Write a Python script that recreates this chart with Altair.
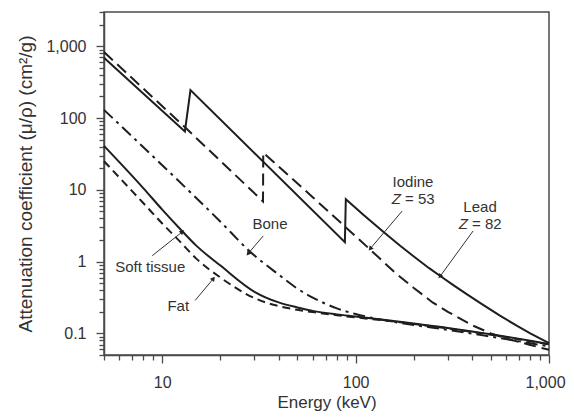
import altair as alt
import pandas as pd

# ---- data (energy keV, mass attenuation cm^2/g) ----
lead_E = [5, 13.1, 14.0, 88, 89, 110, 139, 170, 200, 240, 281, 320, 377, 450, 555, 684, 800, 1000]
lead_mu = [690, 65, 245, 1.87, 7.4, 4.47, 2.6, 1.66, 1.18, 0.81, 0.6, 0.47, 0.35, 0.255, 0.178, 0.127, 0.1, 0.073]

iodine_E = [5, 13, 33.2, 33.3, 60, 118, 160, 200, 250, 300, 400, 500, 600, 800, 1000]
iodine_mu = [830, 76, 6.9, 33, 7.9, 1.5, 0.7, 0.43, 0.27, 0.2, 0.13, 0.1, 0.085, 0.069, 0.059]

bone_E = [5, 10, 15, 20, 28.5, 40, 50, 60, 80, 100, 150, 200, 300, 500, 1000]
bone_mu = [130, 22, 7.7, 3.6, 1.37, 0.66, 0.42, 0.316, 0.223, 0.186, 0.148, 0.131, 0.112, 0.090, 0.066]

soft_E = [5, 8, 10, 12.7, 15, 20, 30, 40, 50, 60, 80, 100, 150, 200, 300, 400, 500, 600, 800, 1000]
soft_mu = [41, 10.5, 5.3, 2.65, 1.67, 0.88, 0.38, 0.27, 0.23, 0.206, 0.184, 0.172, 0.151, 0.137, 0.119, 0.106, 0.097, 0.090, 0.079, 0.071]

fat_E = [5, 8, 10, 12.4, 15, 20, 30, 40, 50, 60, 80, 100, 150, 200, 300, 500, 1000]
fat_mu = [25, 6.5, 3.4, 1.88, 1.1, 0.6, 0.31, 0.24, 0.213, 0.198, 0.179, 0.167, 0.149, 0.135, 0.117, 0.096, 0.070]

x_ticks = [5, 6, 7, 8, 9, 10, 20, 30, 40, 50, 60, 70, 80, 90,
           100, 200, 300, 400, 500, 600, 700, 800, 900, 1000]
y_ticks = [0.05, 0.06, 0.07, 0.08, 0.09, 0.1, 0.2, 0.3, 0.4, 0.5, 0.6, 0.7, 0.8, 0.9,
           1, 2, 3, 4, 5, 6, 7, 8, 9, 10, 20, 30, 40, 50, 60, 70, 80, 90,
           100, 200, 300, 400, 500, 600, 700, 800, 900, 1000, 2000, 3000]

# annotation texts and their anchor points (data units)
label_text = ["Iodine", "Lead", "Bone", "Soft tissue", "Fat"]
label_E = [198, 440, 36.1, 8.67, 12.1]
label_mu = [12.7, 5.74, 3.34, 0.85, 0.238]

z_num = ["= 53", "= 82"]
z_E = [198, 440]
z_mu = [7.4, 3.34]

arrow_E1 = [174, 405, 33.3, 8.88, 14.8]
arrow_mu1 = [5.06, 2.67, 2.28, 1.21, 0.288]
arrow_E2 = [119, 273, 27.8, 12.7, 18.4]
arrow_mu2 = [1.51, 0.62, 1.29, 2.6, 0.58]
arrow_angle = [220, 216, 220, 51, 39]

INK = "#1e1e1e"
AX = "#4a4a4a"
FONT = "Liberation Sans"

xscale = alt.Scale(type="log", domain=[5, 1000], nice=False)
yscale = alt.Scale(type="log", domain=[0.05, 3000], nice=False)

x_axis = alt.Axis(
    values=x_ticks, title="Energy (keV)", grid=False,
    labelExpr="indexof([10,100,1000], datum.value) >= 0 ? format(datum.value, ',') : ''",
    tickSize={"condition": {"test": "indexof([10,100,1000], datum.value) >= 0", "value": 8}, "value": 5},
    labelOffset={"condition": {"test": "datum.value == 1000", "value": -4}, "value": 0},
    labelOverlap=False, labelFlush=False, labelPadding=11,
    labelFont=FONT, labelFontSize=16, labelColor="#333",
    titleFont=FONT, titleFontSize=17, titleFontWeight="normal", titleColor="#333",
    titleY=52, titleBaseline="alphabetic",
    domainColor=AX, domainWidth=1.5, tickColor=AX, tickWidth=1.3,
)
y_axis = alt.Axis(
    values=y_ticks, title="Attenuation coefficient (μ/ρ) (cm²/g)", grid=False,
    labelExpr="indexof([0.1,1,10,100,1000], datum.value) >= 0 ? format(datum.value, ',') : ''",
    tickSize={"condition": {"test": "indexof([0.1,1,10,100,1000], datum.value) >= 0", "value": 8}, "value": 5},
    labelOverlap=False, labelFlush=False, labelPadding=10,
    labelFont=FONT, labelFontSize=16, labelColor="#333",
    titleFont=FONT, titleFontSize=19, titleFontWeight="normal", titleColor="#333",
    titleX=-79, titleY=171.5, titleBaseline="middle", titleAlign="center",
    domainColor=AX, domainWidth=1.5, tickColor=AX, tickWidth=1.3,
)


def X(field):
    return alt.X(field, type="quantitative", scale=xscale, axis=x_axis)


def Y(field):
    return alt.Y(field, type="quantitative", scale=yscale, axis=y_axis)


def series_df(E, mu):
    return pd.DataFrame({"E": E, "mu": mu, "idx": list(range(len(E)))})


def line(E, mu, dash, interp, width=2.0):
    kw = {}
    if dash:
        kw["strokeDash"] = dash
    return alt.Chart(series_df(E, mu)).mark_line(
        color=INK, strokeWidth=width, interpolate=interp, **kw
    ).encode(x=X("E"), y=Y("mu"), order=alt.Order("idx:Q"))


layers = [
    line(lead_E, lead_mu, None, "linear"),
    line(iodine_E, iodine_mu, [12, 6], "linear"),
    line(bone_E, bone_mu, [12, 5, 3, 5], "monotone"),
    line(soft_E, soft_mu, None, "monotone"),
    line(fat_E, fat_mu, [8, 5], "monotone"),
]

arrows = pd.DataFrame({"E1": arrow_E1, "mu1": arrow_mu1, "E2": arrow_E2,
                       "mu2": arrow_mu2, "ang": arrow_angle})
layers.append(alt.Chart(arrows).mark_rule(color="#333", strokeWidth=1).encode(
    x=X("E1"), y=Y("mu1"), x2="E2:Q", y2="mu2:Q"))
layers.append(alt.Chart(arrows).mark_point(shape="triangle-up", filled=True, color="#222",
                                           size=28, opacity=1).encode(
    x=X("E2"), y=Y("mu2"), angle=alt.Angle("ang:Q", scale=None)))

labels = pd.DataFrame({"t": label_text, "E": label_E, "mu": label_mu})
layers.append(alt.Chart(labels).mark_text(font=FONT, fontSize=15, color="#333",
                                          align="center", baseline="middle").encode(
    x=X("E"), y=Y("mu"), text="t:N"))

zdf = pd.DataFrame({"t": z_num, "E": z_E, "mu": z_mu})
layers.append(alt.Chart(zdf).mark_text(font=FONT, fontSize=15, color="#333", fontStyle="italic",
                                       align="right", baseline="middle", dx=-12).encode(
    x=X("E"), y=Y("mu"), text=alt.value("Z")))
layers.append(alt.Chart(zdf).mark_text(font=FONT, fontSize=15, color="#333",
                                       align="left", baseline="middle", dx=-8).encode(
    x=X("E"), y=Y("mu"), text="t:N"))

chart = alt.layer(*layers).properties(
    width=445, height=343,
    autosize=alt.AutoSizeParams(type="none"),
    padding={"left": 96, "top": 4, "right": 17, "bottom": 56},
    background="white",
).configure_view(stroke=AX, strokeWidth=1.5)

chart.save("out.html", embed_options={"renderer": "svg", "actions": False})
